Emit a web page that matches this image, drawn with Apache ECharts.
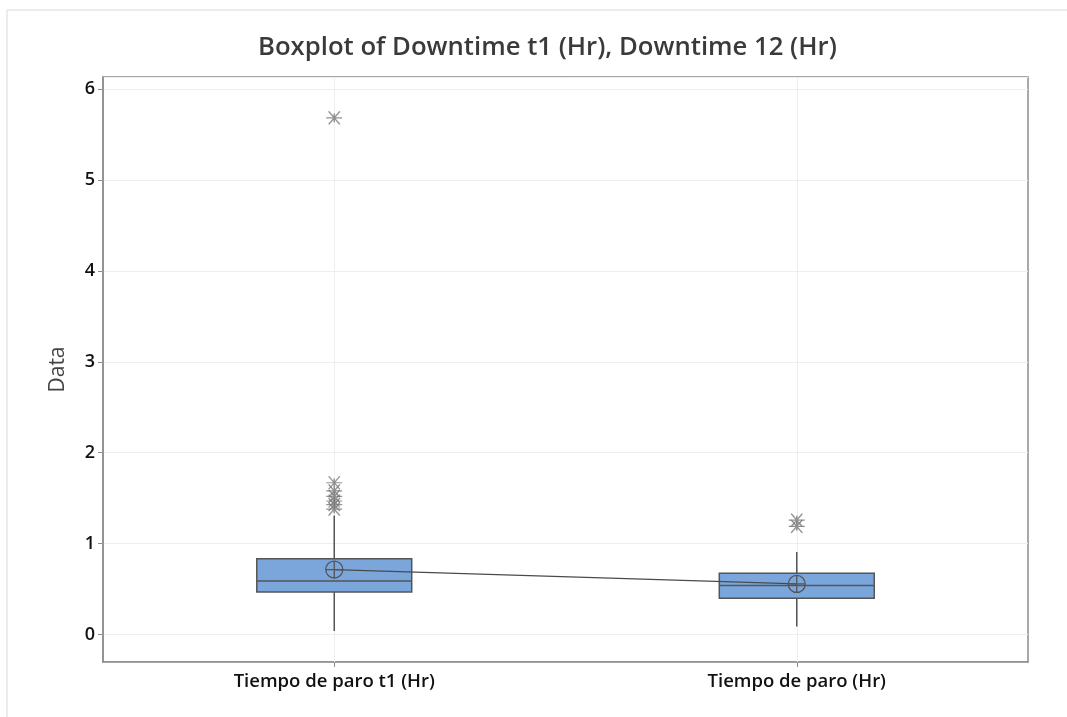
<!DOCTYPE html>
<html>
<head>
<meta charset="utf-8">
<script src="https://cdn.jsdelivr.net/npm/echarts@6/dist/echarts.min.js"></script>
<style>
  html, body { margin: 0; padding: 0; background: #fff; }
  #main { width: 1067px; height: 717px; }
</style>
</head>
<body>
<div id="main"></div>
<script>
// datos
var categories = ['Tiempo de paro t1 (Hr)', 'Tiempo de paro (Hr)'];
var lowWhisker = [0.04, 0.09];
var q1 = [0.47, 0.40];
var median = [0.59, 0.54];
var q3 = [0.835, 0.675];
var highWhisker = [1.31, 0.91];
var means = [0.716, 0.558];
var outliers1 = [1.38, 1.43, 1.47, 1.52, 1.58, 1.67, 5.68];
var outliers2 = [1.19, 1.26];

var boxData = categories.map(function (c, i) {
  return [i, lowWhisker[i], q1[i], median[i], q3[i], highWhisker[i]];
});
var outlierData = [];
outliers1.forEach(function (v) { outlierData.push([0, v]); });
outliers2.forEach(function (v) { outlierData.push([1, v]); });

var starPath = 'path://M-1,0L1,0M-0.7,-0.75L0.7,0.75M-0.7,0.75L0.7,-0.75M0,-0.5L0,0.5';
var meanPath = 'path://M-1,0A1,1 0 1,0 1,0A1,1 0 1,0 -1,0ZM-1,0L1,0M0,-1L0,1';

function renderBox(params, api) {
  var x = api.value(0);
  var pLow = api.coord([x, api.value(1)]);
  var pQ1 = api.coord([x, api.value(2)]);
  var pMed = api.coord([x, api.value(3)]);
  var pQ3 = api.coord([x, api.value(4)]);
  var pHigh = api.coord([x, api.value(5)]);
  var half = api.size([1, 0])[0] * 0.335 / 2;
  var lineStyle = { stroke: '#555', lineWidth: 1.5, fill: null };
  return {
    type: 'group',
    children: [
      { type: 'line', shape: { x1: pQ3[0], y1: pQ3[1], x2: pHigh[0], y2: pHigh[1] }, style: lineStyle },
      { type: 'line', shape: { x1: pQ1[0], y1: pQ1[1], x2: pLow[0], y2: pLow[1] }, style: lineStyle },
      { type: 'rect', shape: { x: pQ3[0] - half, y: pQ3[1], width: half * 2, height: pQ1[1] - pQ3[1] },
        style: { fill: '#7aa6db', stroke: '#555', lineWidth: 1.5 } },
      { type: 'line', shape: { x1: pMed[0] - half, y1: pMed[1], x2: pMed[0] + half, y2: pMed[1] }, style: lineStyle }
    ]
  };
}

var option = {
  backgroundColor: '#fff',
  animation: false,
  title: {
    text: 'Boxplot of Downtime t1 (Hr), Downtime 12 (Hr)',
    left: 253,
    top: 30,
    textStyle: { fontFamily: 'Open Sans', fontSize: 25.7, fontWeight: 600, color: '#3a3a3a' }
  },
  graphic: [
    { type: 'line', shape: { x1: 7, y1: 10, x2: 1067, y2: 10 }, style: { stroke: '#e6e6e6', lineWidth: 1.5 } },
    { type: 'line', shape: { x1: 7, y1: 10, x2: 7, y2: 717 }, style: { stroke: '#e6e6e6', lineWidth: 1.5 } }
  ],
  grid: { left: 103, right: 39, top: 77, bottom: 55, show: true, borderColor: '#8c8c8c', borderWidth: 1.5 },
  xAxis: {
    type: 'category',
    data: categories,
    boundaryGap: true,
    axisLine: { show: true, onZero: false, lineStyle: { color: '#8c8c8c', width: 1.5 } },
    axisTick: { show: true, alignWithLabel: true, length: 5, lineStyle: { color: '#8c8c8c' } },
    axisLabel: { fontFamily: 'Open Sans', fontSize: 18.5, fontWeight: 600, color: '#111', margin: 10 },
    splitLine: { show: false }
  },
  yAxis: {
    type: 'value',
    min: -0.3,
    max: 6.13,
    name: 'Data',
    nameLocation: 'middle',
    nameGap: 34,
    nameTextStyle: { fontFamily: 'Open Sans', fontSize: 21, color: '#444' },
    axisLine: { show: true, lineStyle: { color: '#8c8c8c', width: 1.5 } },
    axisTick: { show: true, length: 5, lineStyle: { color: '#8c8c8c' } },
    axisLabel: {
      fontFamily: 'Open Sans', fontSize: 18, fontWeight: 600, color: '#111', margin: 8,
      showMinLabel: false, showMaxLabel: false,
      formatter: function (v) { return Math.abs(v - Math.round(v)) < 1e-6 ? String(Math.round(v)) : ''; }
    },
    splitLine: { show: true, lineStyle: { color: '#eeeeee' } }
  },
  series: [
    {
      type: 'custom',
      renderItem: renderBox,
      data: boxData,
      encode: { x: 0, y: [1, 2, 3, 4, 5] },
      z: 2
    },
    {
      type: 'line',
      data: means,
      symbol: meanPath,
      symbolSize: 17,
      lineStyle: { color: '#4a4a4a', width: 1.3 },
      itemStyle: { color: 'transparent', borderColor: '#555', borderWidth: 1.3 },
      markLine: {
        silent: true,
        symbol: 'none',
        label: { show: false },
        lineStyle: { color: '#eeeeee', type: 'solid', width: 1 },
        data: [{ xAxis: 0 }, { xAxis: 1 }],
        z: 1
      },
      z: 3
    },
    {
      type: 'scatter',
      data: outlierData,
      symbol: starPath,
      symbolSize: [16, 13],
      itemStyle: { color: 'transparent', borderColor: '#777', borderWidth: 1.3 },
      z: 4
    }
  ]
};

var myChart = echarts.init(document.getElementById('main'));
myChart.setOption(option);
</script>
</body>
</html>
